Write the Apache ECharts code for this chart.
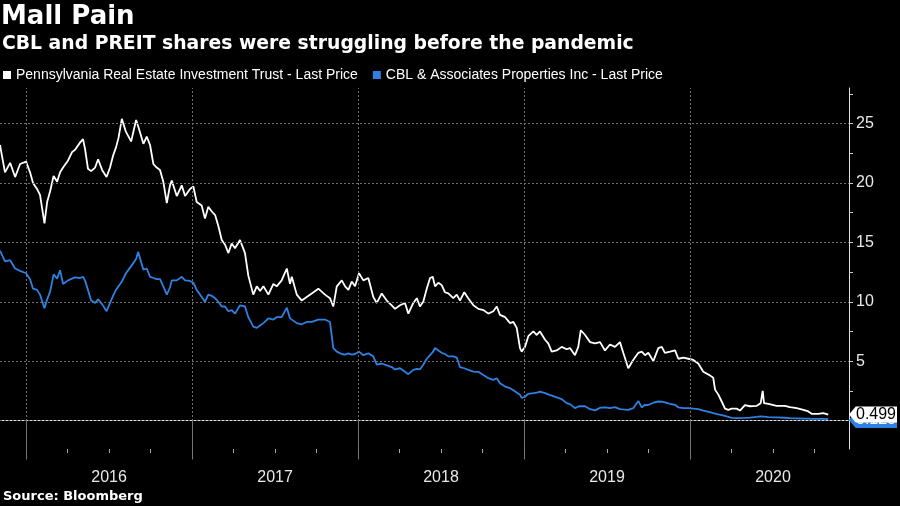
<!DOCTYPE html>
<html>
<head>
<meta charset="utf-8">
<script src="https://cdn.jsdelivr.net/npm/echarts@6/dist/echarts.min.js"></script>
<style>
html,body{margin:0;padding:0;background:#000;}
#chart{width:900px;height:506px;}
</style>
</head>
<body>
<div id="chart"></div>
<script>
// time in decimal years
const t = [
2015.843,2015.873,2015.904,2015.934,2015.964,2016.000,2016.024,2016.042,2016.066,2016.084,
2016.111,2016.127,2016.145,2016.166,2016.187,2016.205,2016.223,2016.253,2016.277,2016.295,
2016.325,2016.343,2016.355,2016.373,2016.392,2016.416,2016.434,2016.458,2016.485,2016.506,
2016.524,2016.542,2016.557,2016.577,2016.602,2016.633,2016.663,2016.675,2016.707,2016.727,
2016.747,2016.767,2016.787,2016.807,2016.827,2016.848,2016.867,2016.878,2016.908,2016.938,
2016.958,2016.988,2017.008,2017.028,2017.058,2017.078,2017.098,2017.119,2017.139,2017.158,
2017.179,2017.199,2017.219,2017.239,2017.259,2017.289,2017.319,2017.339,2017.369,2017.390,
2017.410,2017.430,2017.460,2017.490,2017.510,2017.540,2017.571,2017.590,2017.601,2017.631,
2017.661,2017.691,2017.721,2017.761,2017.801,2017.831,2017.851,2017.872,2017.902,2017.922,
2017.942,2017.962,2017.982,2018.006,2018.032,2018.062,2018.092,2018.113,2018.143,2018.173,
2018.203,2018.223,2018.253,2018.283,2018.303,2018.333,2018.354,2018.373,2018.393,2018.414,
2018.434,2018.450,2018.464,2018.484,2018.504,2018.524,2018.544,2018.574,2018.595,2018.614,
2018.640,2018.664,2018.695,2018.725,2018.755,2018.785,2018.815,2018.836,2018.855,2018.886,
2018.916,2018.936,2018.956,2018.976,2018.986,2019.006,2019.026,2019.056,2019.077,2019.096,
2019.127,2019.146,2019.167,2019.197,2019.227,2019.257,2019.277,2019.307,2019.327,2019.342,
2019.368,2019.398,2019.428,2019.458,2019.488,2019.518,2019.548,2019.578,2019.598,2019.628,
2019.658,2019.689,2019.709,2019.729,2019.749,2019.779,2019.809,2019.830,2019.849,2019.880,
2019.910,2019.930,2019.960,2019.990,2020.020,2020.050,2020.080,2020.120,2020.140,2020.151,
2020.170,2020.191,2020.201,2020.211,2020.231,2020.251,2020.281,2020.301,2020.331,2020.361,
2020.402,2020.426,2020.438,2020.446,2020.472,2020.522,2020.572,2020.602,2020.643,2020.683,
2020.713,2020.733,2020.773,2020.803,2020.833
];
const preit = [
23.2,20.9,21.7,20.5,21.6,21.8,20.9,20.0,19.5,19.0,
16.6,18.4,19.3,20.6,20.1,20.9,21.3,21.9,22.6,22.8,
23.4,23.7,22.9,21.2,21.0,21.3,22.0,21.1,20.5,21.3,
22.3,23.0,23.8,25.4,24.3,23.5,25.3,24.8,23.3,23.9,
23.2,21.6,21.3,21.1,20.1,18.3,19.8,20.2,18.9,19.8,
18.9,19.5,19.7,18.4,18.1,17.0,18.0,17.6,17.3,16.4,
15.2,14.8,14.1,14.9,14.5,15.2,14.1,12.2,10.6,11.3,
10.9,11.3,10.6,11.5,11.3,11.8,12.8,11.5,12.1,10.6,
10.1,10.4,10.7,11.1,10.6,10.3,9.6,11.3,11.8,11.3,
11.0,11.7,11.3,12.4,11.8,12.0,10.4,9.9,10.7,10.1,
9.7,9.4,9.7,9.9,9.0,9.9,10.3,9.6,10.0,11.1,
12.0,12.1,11.3,11.6,11.4,10.8,10.7,10.3,10.6,10.1,
10.8,10.3,9.7,9.4,9.3,9.0,9.2,9.6,8.9,8.7,
8.2,8.3,7.8,6.1,5.8,6.2,7.1,7.5,7.2,7.5,
6.8,6.5,5.8,5.9,6.2,6.0,6.1,5.5,6.2,7.6,
7.2,6.6,6.5,6.6,5.9,6.4,6.2,6.6,5.7,4.4,
5.1,5.7,5.8,5.5,5.7,5.0,6.1,6.2,5.7,5.8,
5.9,5.2,5.3,5.2,5.1,4.8,4.1,3.8,3.6,2.6,
2.2,1.6,1.5,1.0,0.9,1.0,1.0,0.84,1.3,1.2,
1.24,1.46,2.5,1.46,1.4,1.24,1.24,1.12,1.04,0.9,
0.76,0.56,0.56,0.62,0.499
];
const cbl = [
14.3,13.4,13.5,12.8,12.6,12.4,11.9,11.1,11.0,10.6,
9.45,10.2,10.85,12.3,11.95,12.65,11.5,11.8,11.95,12.05,
12.0,12.1,11.8,11.0,10.1,9.9,10.2,9.8,9.2,9.9,
10.5,11.0,11.3,11.7,12.4,13.0,13.6,14.2,12.7,12.8,
12.1,12.0,11.9,11.9,11.3,10.6,11.2,11.8,11.8,12.1,
11.8,11.75,11.6,11.0,10.4,10.0,10.6,10.5,10.3,10.0,
9.6,9.6,9.2,9.3,9.0,9.7,9.6,8.7,7.9,7.8,
8.0,8.2,8.6,8.5,8.7,8.7,9.5,8.6,8.7,8.2,
8.1,8.3,8.3,8.5,8.5,8.3,6.1,5.8,5.6,5.55,
5.66,5.55,5.6,5.8,5.5,5.66,5.4,4.7,4.8,4.65,
4.5,4.3,4.4,4.1,3.9,4.26,4.35,4.3,4.7,5.2,
5.5,5.75,6.1,5.9,5.7,5.6,5.4,5.4,5.3,4.5,
4.4,4.26,4.12,4.1,3.84,3.56,3.42,3.56,3.14,2.86,
2.72,2.55,2.35,2.16,1.9,2.0,2.25,2.3,2.35,2.44,
2.3,2.2,2.1,1.95,1.8,1.46,1.38,1.04,1.18,1.2,
1.2,0.95,0.85,1.08,1.1,1.04,1.12,0.96,0.93,0.9,
1.04,1.65,1.1,1.32,1.3,1.5,1.6,1.58,1.52,1.4,
1.32,1.1,1.04,1.04,1.0,0.96,0.84,0.7,0.62,0.6,
0.52,0.46,0.42,0.38,0.3,0.22,0.2,0.2,0.22,0.25,
0.3,0.34,0.33,0.32,0.29,0.26,0.23,0.2,0.18,0.16,
0.15,0.14,0.14,0.13,0.12
];
const years = [2016, 2017, 2018, 2019, 2020];
const yearLabelPos = [2016.5, 2017.5, 2018.5, 2019.5, 2020.5];
const quarterTicks = [2016.25,2016.5,2016.75,2017.25,2017.5,2017.75,2018.25,2018.5,2018.75,2019.25,2019.5,2019.75,2020.25,2020.5,2020.75];
const yGrid = [0, 5, 10, 15, 20, 25];
const yLabels = [5, 10, 15, 20, 25];
const yTicks = [0, 2.5, 5, 7.5, 10, 12.5, 15, 17.5, 20, 22.5, 25, 27.5];
const xMin = 2015.843, xMax = 2020.958;
const yMin = -2.4, yMax = 28;

const nameP = 'Pennsylvania Real Estate Investment Trust - Last Price';
const nameC = 'CBL & Associates Properties Inc - Last Price';
const WHITE = '#ffffff', BLUE = '#2f80e2';
const FONT = '"Liberation Sans", Arial, sans-serif';
const BOLD = '"DejaVu Sans", sans-serif';

const pData = t.map((x, i) => [x, preit[i]]);
const cData = t.map((x, i) => [x, cbl[i]]);
const arrow = 'path://M0,8L7,0L50,0L50,16L7,16Z';

const chart = echarts.init(document.getElementById('chart'), null, {renderer: 'canvas'});
chart.setOption({
  backgroundColor: '#000',
  animation: false,
  title: [
    {text: 'Mall Pain', left: 1, top: 4, padding: 0,
     textStyle: {color: '#fff', fontFamily: BOLD, fontWeight: 'bold', fontSize: 26}},
    {text: 'CBL and PREIT shares were struggling before the pandemic', left: 2, top: 35, padding: 0,
     textStyle: {color: '#fff', fontFamily: BOLD, fontWeight: 'bold', fontSize: 18.8}},
    {text: 'Source: Bloomberg', left: 3, top: 490, padding: 0,
     textStyle: {color: '#fff', fontFamily: BOLD, fontWeight: 'bold', fontSize: 13}}
  ],
  legend: {
    data: [nameP, nameC], left: 3, top: 68, padding: 0, itemGap: 15,
    itemWidth: 8, itemHeight: 8, icon: 'rect',
    textStyle: {color: '#fff', fontFamily: FONT, fontSize: 14}
  },
  grid: {left: 0, right: 51, top: 88, bottom: 57},
  xAxis: [
    {type: 'value', min: xMin, max: xMax, position: 'bottom',
     axisLine: {show: true, lineStyle: {color: '#e0e0e0', width: 1}},
     axisTick: {show: true, customValues: years, length: 39, lineStyle: {color: '#777777', width: 1}},
     axisLabel: {show: true, customValues: yearLabelPos, formatter: v => String(Math.floor(v)),
                 color: '#e8e8e8', fontFamily: FONT, fontSize: 16, margin: 21},
     splitLine: {show: false}},
    {type: 'value', min: xMin, max: xMax, position: 'bottom',
     axisLine: {show: false},
     axisTick: {show: true, customValues: quarterTicks, length: 4, lineStyle: {color: '#aaaaaa', width: 1}},
     axisLabel: {show: false}, splitLine: {show: false}}
  ],
  yAxis: {
    type: 'value', position: 'right', min: yMin, max: yMax,
    axisLine: {show: true, lineStyle: {color: '#e0e0e0', width: 1}},
    axisTick: {show: true, customValues: yTicks, length: 4, lineStyle: {color: '#cccccc'}},
    axisLabel: {show: true, customValues: yLabels, color: '#e8e8e8', fontFamily: FONT, fontSize: 16, margin: 7},
    splitLine: {show: false}
  },
  series: [
    {name: 'grid', type: 'line', data: pData, showSymbol: false, silent: true,
     lineStyle: {opacity: 0}, z: 1,
     markLine: {silent: true, symbol: 'none', label: {show: false},
       lineStyle: {color: '#707070', type: [2, 2], width: 1},
       data: yGrid.map(v => ({yAxis: v})).concat(years.map(v => ({xAxis: v})))}},
    {name: nameC, type: 'line', data: cData, showSymbol: false, z: 3,
     lineStyle: {color: BLUE, width: 1.8}, itemStyle: {color: BLUE},
     markPoint: {symbol: arrow, symbolSize: [48, 16], symbolKeepAspect: false, symbolOffset: ['50%', 1],
       itemStyle: {color: BLUE},
       label: {show: true, position: 'inside', offset: [3, 0], color: '#fff', fontFamily: FONT, fontSize: 16,
               formatter: p => p.value.toFixed(3)},
       data: [{coord: [xMax, cbl[cbl.length - 1]], value: cbl[cbl.length - 1]}]}},
    {name: nameP, type: 'line', data: pData, showSymbol: false, z: 4,
     lineStyle: {color: WHITE, width: 1.8}, itemStyle: {color: WHITE},
     markPoint: {symbol: arrow, symbolSize: [48, 16], symbolKeepAspect: false, symbolOffset: ['50%', 0],
       itemStyle: {color: WHITE},
       label: {show: true, position: 'inside', offset: [3, 0], color: '#000', fontFamily: FONT, fontSize: 16,
               formatter: p => p.value.toFixed(3)},
       data: [{coord: [xMax, preit[preit.length - 1]], value: preit[preit.length - 1]}]}}
  ]
});
</script>
</body>
</html>
